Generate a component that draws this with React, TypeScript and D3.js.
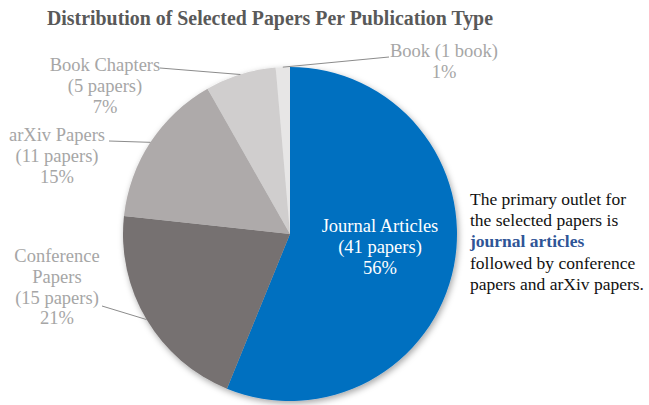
import React, { useRef, useEffect } from 'react';
import * as d3 from 'd3';

const categories = ['Journal Articles', 'Conference Papers', 'arXiv Papers', 'Book Chapters', 'Book'];
const counts = [41, 15, 11, 5, 1];
const labelLines = [
  ['Journal Articles', '(41 papers)', '56%'],
  ['Conference', 'Papers', '(15 papers)', '21%'],
  ['arXiv Papers', '(11 papers)', '15%'],
  ['Book Chapters', '(5 papers)', '7%'],
  ['Book (1 book)', '1%'],
];
const colors = ['#0070C0', '#767171', '#AEAAAA', '#D0CECE', '#E7E6E6'];

// label layout: text centre x, first baseline y, leader start (null = no leader)
const labelLayout = [
  { x: 380, y: 232, lead: null },
  { x: 57, y: 262, lead: [102, 306] },
  { x: 57, y: 141, lead: [109, 141] },
  { x: 105, y: 71, lead: [160, 68] },
  { x: 444, y: 57, lead: [389, 57] },
];

const W = 649;
const H = 405;
const FONT = '"Liberation Serif", "Times New Roman", serif';

const App: React.FC = () => {
  const svgRef = useRef<SVGSVGElement | null>(null);

  useEffect(() => {
    document.body.style.margin = '0';
    const svg = d3.select(svgRef.current);
    svg.selectAll('*').remove();

    const cx = 290;
    const cy = 234;
    const r = 167;

    const defs = svg.append('defs');
    const filter = defs.append('filter')
      .attr('id', 'shadow')
      .attr('x', '-20%').attr('y', '-20%')
      .attr('width', '140%').attr('height', '140%');
    filter.append('feDropShadow')
      .attr('dx', 1.5).attr('dy', 2.5)
      .attr('stdDeviation', 3)
      .attr('flood-color', '#000')
      .attr('flood-opacity', 0.35);

    svg.append('text')
      .attr('x', 47)
      .attr('y', 25)
      .attr('font-family', FONT)
      .attr('font-weight', 'bold')
      .attr('font-size', 20)
      .attr('fill', '#595959')
      .attr('textLength', 446)
      .attr('lengthAdjust', 'spacingAndGlyphs')
      .text('Distribution of Selected Papers Per Publication Type');

    const data = categories.map((c, i) => ({ name: c, value: counts[i], i }));
    const pie = d3.pie<any>().sort(null).value((d: any) => d.value);
    const arcs = pie(data);
    const arc = d3.arc<any>().innerRadius(0).outerRadius(r);

    const g = svg.append('g').attr('transform', `translate(${cx},${cy})`);
    const slices = g.append('g').attr('filter', 'url(#shadow)');
    slices.selectAll('path')
      .data(arcs)
      .enter()
      .append('path')
      .attr('d', arc as any)
      .attr('fill', (d: any) => colors[d.data.i]);

    // leader lines: from label to the outer midpoint of each slice
    arcs.forEach((a: any, k: number) => {
      const lay = labelLayout[k];
      if (!lay.lead) return;
      const mid = (a.startAngle + a.endAngle) / 2;
      const ex = cx + r * Math.sin(mid);
      const ey = cy - r * Math.cos(mid);
      svg.append('line')
        .attr('x1', lay.lead[0]).attr('y1', lay.lead[1])
        .attr('x2', ex).attr('y2', ey)
        .attr('stroke', '#8C8C8C')
        .attr('stroke-width', 1);
    });

    // labels
    labelLines.forEach((lines, k) => {
      const lay = labelLayout[k];
      const t = svg.append('text')
        .attr('font-family', FONT)
        .attr('font-size', 18.5)
        .attr('text-anchor', 'middle')
        .attr('fill', k === 0 ? '#FFFFFF' : '#A6A6A6');
      lines.forEach((ln, j) => {
        t.append('tspan')
          .attr('x', lay.x)
          .attr('y', lay.y + j * 20.8)
          .text(ln);
      });
    });

    // annotation
    const note = svg.append('text')
      .attr('font-family', FONT)
      .attr('font-size', 17.5)
      .attr('fill', '#111');
    const noteLines = [
      { t: 'The primary outlet for', b: false },
      { t: 'the selected papers is', b: false },
      { t: 'journal articles', b: true },
      { t: 'followed by conference', b: false },
      { t: 'papers and arXiv papers.', b: false },
    ];
    noteLines.forEach((ln, j) => {
      note.append('tspan')
        .attr('x', 470)
        .attr('y', 205 + j * 21.2)
        .attr('font-weight', ln.b ? 'bold' : 'normal')
        .attr('fill', ln.b ? '#2F5597' : '#111')
        .text(ln.t);
    });
  }, []);

  return (
    <svg
      ref={svgRef}
      width={W}
      height={H}
      style={{ display: 'block', position: 'absolute', left: 0, top: 0, background: '#fff' }}
    />
  );
};

export default App;
